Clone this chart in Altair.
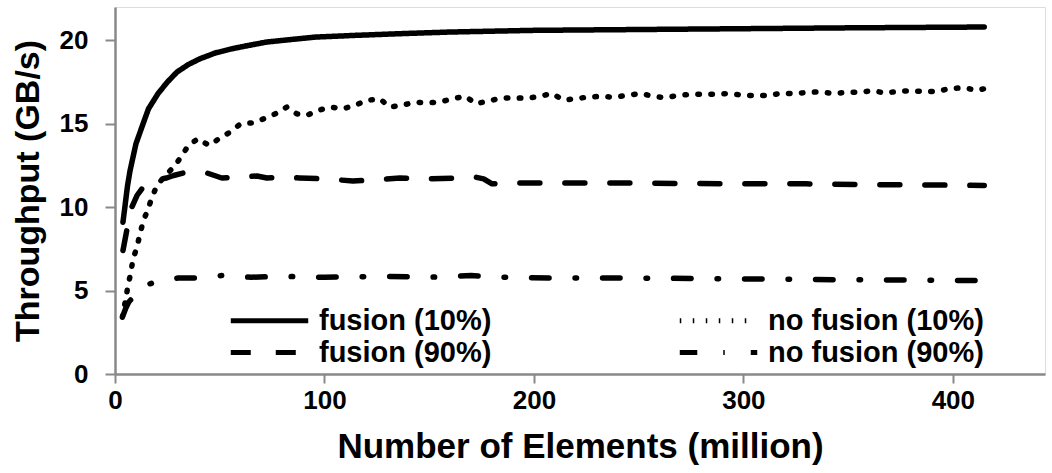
import altair as alt
import pandas as pd

# Throughput (GB/s) versus number of elements (million), four configurations
fusion10_x = [3.8, 5, 6, 7.2, 8.6, 10, 13.4, 16, 20.5, 25, 29.6, 35, 40.6, 48, 56, 64,
              72.5, 84, 96, 115, 136, 160, 200, 250, 300, 350, 415]
fusion10_y = [9.1, 10.3, 11.3, 12.2, 13.0, 13.8, 15.0, 15.9, 16.8, 17.5, 18.1, 18.55, 18.9,
              19.25, 19.5, 19.7, 19.9, 20.05, 20.2, 20.3, 20.4, 20.5, 20.6, 20.65, 20.7,
              20.75, 20.8]

nofusion10_x = [3.5, 5, 6.2, 7.6, 8.6, 10.5, 11.9, 13.6, 15.8, 17.7, 20, 24, 28, 31.5, 35,
                39.6, 44.9, 49.6, 54.9, 60, 65.5, 71, 76.6, 82, 86.7, 91.5, 97, 102.6,
                108.8, 114.6, 120, 126.5, 131, 137, 143, 148.9, 154.9, 161.2, 167.3, 172.2,
                178.3, 184.3, 190.6, 196.6, 202.7, 208.6, 214.1, 220.1, 226, 232.4, 238.3,
                244.4, 250.8, 256.8, 262.7, 269.1, 275.2, 281.4, 287.5, 293.6, 300, 306.2,
                312.3, 318.4, 324.8, 331, 337.1, 343.1, 349.4, 355.4, 361.9, 367.9, 374.2,
                380.2, 386.3, 392.5, 399, 405.6, 411.4, 415]
nofusion10_y = [3.4, 4.4, 5.3, 6.1, 6.9, 7.6, 8.4, 9.2, 9.9, 10.6, 11.3, 11.9, 12.4, 13.0,
                13.7, 14.1, 13.7, 14.1, 14.5, 15.0, 15.05, 15.3, 15.6, 16.0, 15.6, 15.5,
                15.8, 16.0, 15.9, 16.1, 16.4, 16.5, 16.0, 16.1, 16.3, 16.25, 16.3, 16.5,
                16.65, 16.2, 16.36, 16.54, 16.56, 16.52, 16.64, 16.82, 16.43, 16.5, 16.61,
                16.64, 16.59, 16.7, 16.82, 16.65, 16.56, 16.7, 16.77, 16.77, 16.77, 16.82,
                16.7, 16.7, 16.7, 16.84, 16.8, 16.89, 16.91, 16.8, 16.89, 16.89, 16.98,
                16.84, 16.96, 16.96, 16.94, 16.94, 17.12, 17.16, 17.0, 17.1]

fusion90_x = [3.8, 5.6, 8, 10.5, 13.4, 17, 20, 24.6, 28, 32.5, 38, 43.9, 51, 58, 67.8, 72.5,
              80, 88, 100, 113.6, 125, 136, 150, 165, 172, 176, 180, 190, 210, 240, 270,
              300, 330, 360, 390, 415]
fusion90_y = [7.4, 8.6, 10.0, 10.7, 11.2, 11.5, 11.65, 11.75, 11.9, 12.05, 12.05, 12.05,
              11.75, 11.8, 11.87, 11.75, 11.8, 11.75, 11.7, 11.57, 11.65, 11.75, 11.7,
              11.75, 11.8, 11.7, 11.4, 11.45, 11.45, 11.45, 11.42, 11.4, 11.4, 11.35,
              11.33, 11.3]

nofusion90_x = [3.8, 5, 6.5, 8.6, 11, 14, 17.7, 22, 30, 39, 51, 65, 80, 100, 130, 150, 170,
                185, 210, 250, 300, 350, 415]
nofusion90_y = [3.5, 3.9, 4.3, 4.6, 5.0, 5.3, 5.45, 5.6, 5.75, 5.75, 5.9, 5.8, 5.85, 5.8,
                5.85, 5.8, 5.9, 5.8, 5.75, 5.75, 5.7, 5.65, 5.6]

# Legend fills column by column: left column holds the fusion runs,
# right column the runs without fusion.
series_names = ["fusion (10%)", "fusion (90%)", "no fusion (10%)", "no fusion (90%)"]
series_dash = [[1, 0], [20, 25], [1.5, 11.5], [17.5, 26, 1.5, 26]]

frames = []
for name, xs, ys in [
    ("fusion (10%)", fusion10_x, fusion10_y),
    ("no fusion (10%)", nofusion10_x, nofusion10_y),
    ("fusion (90%)", fusion90_x, fusion90_y),
    ("no fusion (90%)", nofusion90_x, nofusion90_y),
]:
    frames.append(pd.DataFrame({"elements": xs, "throughput": ys, "series": name}))
data = pd.concat(frames, ignore_index=True)

FONT = "Liberation Sans"
AXIS_GREY = "#898989"

# A wide horizontal stroke keeps the legend rows compact while the
# sample line stays long.
LEGEND_STROKE = "M-4,0H4"

chart = (
    alt.Chart(data)
    .mark_line(strokeWidth=5.5, strokeCap="round", strokeJoin="round", color="black")
    .encode(
        x=alt.X(
            "elements:Q",
            scale=alt.Scale(domain=[0, 444], nice=False, zero=True),
            axis=alt.Axis(
                title="Number of Elements (million)",
                values=[0, 100, 200, 300, 400],
                grid=False,
                domainColor=AXIS_GREY,
                domainWidth=2.5,
                tickColor=AXIS_GREY,
                tickWidth=2,
                tickSize=9,
                labelFont=FONT,
                labelFontSize=26,
                labelFontWeight="bold",
                labelColor="black",
                labelPadding=4,
                labelFlush=False,
                titleFont=FONT,
                titleFontSize=35,
                titleFontWeight="bold",
                titleColor="black",
                titleBaseline="alphabetic",
                titleY=83,
            ),
        ),
        y=alt.Y(
            "throughput:Q",
            scale=alt.Scale(domain=[0, 22], nice=False),
            axis=alt.Axis(
                title="Throughput (GB/s)",
                values=[0, 5, 10, 15, 20],
                grid=False,
                domainColor=AXIS_GREY,
                domainWidth=2.5,
                tickColor=AXIS_GREY,
                tickWidth=2,
                tickSize=10,
                labelFont=FONT,
                labelFontSize=26,
                labelFontWeight="bold",
                labelColor="black",
                labelPadding=17,
                labelFlush=False,
                titleFont=FONT,
                titleFontSize=34,
                titleFontWeight="bold",
                titleColor="black",
                titleBaseline="middle",
                titleX=-87,
            ),
        ),
        strokeDash=alt.StrokeDash(
            "series:N",
            scale=alt.Scale(domain=series_names, range=series_dash),
            sort=None,
            legend=alt.Legend(
                title=None,
                orient="none",
                legendX=140,
                legendY=299,
                columns=2,
                columnPadding=177,
                rowPadding=2,
                symbolType=LEGEND_STROKE,
                symbolSize=375,
                symbolStrokeWidth=5,
                symbolStrokeColor="black",
                symbolFillColor="transparent",
                labelFont=FONT,
                labelFontSize=29,
                labelFontWeight="bold",
                labelColor="black",
                labelOffset=35,
                labelLimit=400,
            ),
        ),
    )
    .properties(
        width=930,
        height=367,
        padding={"left": 115, "top": 7, "right": 7, "bottom": 99},
        autosize=alt.AutoSizeParams(type="none"),
    )
    .configure_view(stroke=None)
    .configure(background="white")
)

chart.save("out.html", embed_options={"renderer": "svg", "actions": False})
